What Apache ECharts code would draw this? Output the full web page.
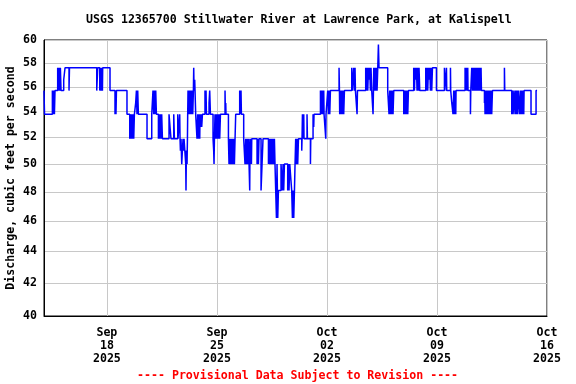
<!DOCTYPE html>
<html>
<head>
<meta charset="utf-8">
<script src="https://cdn.jsdelivr.net/npm/echarts@6/dist/echarts.min.js"></script>
<style>
html,body{margin:0;padding:0;background:#fff;}
#chart{width:576px;height:384px;}
</style>
</head>
<body>
<div id="chart"></div>
<script>
const chartTitle = 'USGS 12365700 Stillwater River at Lawrence Park, at Kalispell';
const footerText = '---- Provisional Data Subject to Revision ----';
const yAxisName = 'Discharge, cubic feet per second';
const startTime = '2025-09-14T00:00:00Z';
const endTime = '2025-10-16T00:00:00Z';
const xTickDates = ['2025-09-18', '2025-09-25', '2025-10-02', '2025-10-09', '2025-10-16'];
const yTicks = [40, 42, 44, 46, 48, 50, 52, 54, 56, 58, 60];
const monthNames = ['Jan','Feb','Mar','Apr','May','Jun','Jul','Aug','Sep','Oct','Nov','Dec'];
// [hours since start, discharge cfs] — each value holds until the next reading
const readings = [
[0.0,55.7],[0.8,53.8],
[12.8,55.7],[13.7,53.8],[14.8,55.7],[15.9,53.8],[16.8,55.7],
[20.9,57.6],[22.0,55.7],[22.9,57.6],[24.0,55.7],[25.0,57.6],[26.0,55.7],
[30.1,56.6],[32.1,57.6],
[38.2,55.7],[38.9,57.6],
[80.5,55.7],[82.0,57.6],
[85.1,55.7],[86.1,57.6],[87.0,55.7],[88.1,57.6],[89.2,55.7],[89.6,57.6],
[100.8,55.7],
[108.4,53.8],[109.5,55.7],[109.9,53.8],[110.6,55.7],
[126.7,53.8],
[130.9,51.9],[131.9,53.8],[132.8,51.9],[133.9,53.8],[135.0,51.9],[135.9,53.8],[137.0,51.9],[138.0,53.8],
[140.0,54.7],[141.1,55.7],[142.0,53.8],[143.1,55.7],[144.1,53.8],
[157.3,51.9],
[164.5,53.8],
[166.4,55.7],[167.5,53.8],[168.6,55.7],[169.5,53.8],[170.6,55.7],[171.6,53.8],
[174.7,51.9],[175.6,53.8],[176.7,51.9],[177.7,53.8],[178.7,51.9],[179.7,53.8],[180.8,51.9],
[190.9,53.8],[193.9,51.9],[198.1,53.8],[199.1,51.9],[204.2,53.8],[204.6,51.9],[207.2,53.8],[207.7,51.9],
[208.3,51.0],[209.2,51.9],[210.3,50.0],[211.3,51.0],[212.3,51.9],[213.3,51.0],[213.8,51.9],
[216.4,50.0],[216.8,48.1],[217.4,51.0],[218.4,50.0],[219.0,51.9],
[219.4,53.8],[219.9,55.7],[221.0,53.8],[222.0,55.7],[222.9,53.8],[224.0,55.7],[225.1,53.8],[226.0,55.7],[227.1,53.8],[228.1,55.7],
[228.6,57.6],[229.1,55.7],[230.1,56.6],[230.6,55.7],[231.6,53.8],
[233.6,51.9],[234.7,53.8],[235.8,51.9],[236.7,53.8],[237.8,51.9],[238.2,53.8],
[238.8,52.8],[239.7,53.8],[240.8,52.8],[241.9,53.8],
[245.8,55.7],[246.9,53.8],[247.4,55.7],[248.0,53.8],
[252.0,54.7],[253.0,55.7],[254.1,53.8],
[258.1,51.9],[259.1,51.0],[259.6,50.0],[260.2,51.9],[261.1,53.8],
[262.2,51.9],[263.3,53.8],[264.2,51.9],[265.2,53.8],[266.3,51.9],[267.2,53.8],[268.3,51.9],[269.4,53.8],
[276.4,55.7],[277.0,53.8],[277.5,54.7],[277.9,53.8],
[281.6,51.9],
[282.5,50.0],[283.6,51.9],[284.6,50.0],[285.5,51.9],[286.6,50.0],[287.7,51.9],[288.6,50.0],[289.7,51.9],[290.7,50.0],[291.7,51.9],
[292.7,53.8],
[298.8,55.7],[299.9,53.8],[300.8,55.7],[301.4,53.8],
[304.9,51.9],
[306.9,50.0],[308.0,51.9],[309.1,50.0],[310.0,51.9],[311.0,50.0],[312.1,51.9],
[314.1,48.1],[314.6,51.9],
[315.2,50.0],[316.1,51.9],[316.7,50.0],[317.2,51.9],
[325.3,50.0],[326.3,51.9],[327.4,50.0],[328.3,51.9],
[331.4,48.1],[334.4,51.9],
[342.7,50.0],[343.6,51.9],[344.6,50.0],[345.7,51.9],[346.6,50.0],[347.7,51.9],[348.8,50.0],[349.7,51.9],[350.8,50.0],[351.8,51.9],[352.7,50.0],
[354.9,46.2],[355.8,50.0],[356.9,46.2],[357.9,48.1],
[361.9,50.0],
[364.0,48.1],[365.0,50.0],[366.0,48.1],[367.1,50.0],
[372.1,48.1],[373.2,50.0],[374.1,48.1],[375.2,50.0],
[378.2,48.1],[379.3,46.2],[380.2,48.1],[381.3,46.2],[382.4,48.1],
[383.3,50.0],[384.3,51.9],[385.4,50.0],[386.3,51.9],[387.4,50.0],[388.5,51.9],
[393.5,51.0],[394.0,51.9],
[394.6,53.8],[395.5,51.9],[396.6,53.8],[397.0,51.9],
[401.6,53.8],[402.2,51.9],
[406.8,50.0],[407.3,51.9],
[410.8,53.8],
[411.8,52.8],[412.3,53.8],
[422.1,55.7],[422.5,53.8],[423.0,55.7],[423.6,53.8],[425.1,55.7],[425.6,53.8],[427.1,55.7],[427.6,53.8],
[430.2,51.9],[430.6,53.8],
[433.2,55.7],[434.3,53.8],[435.2,55.7],[436.3,53.8],[437.3,55.7],
[450.5,57.6],[451.1,55.7],
[451.5,53.8],[452.6,55.7],[453.5,53.8],[454.6,55.7],[455.7,53.8],[456.6,55.7],[457.6,53.8],[458.7,55.7],
[469.9,57.6],[470.9,55.7],[471.8,56.6],[472.9,57.6],[474.0,55.7],[474.9,57.6],[475.5,55.7],
[478.0,53.8],[478.6,55.7],
[491.2,57.6],[492.3,55.7],[493.2,57.6],[494.3,55.7],[495.4,57.6],[496.3,56.6],[497.3,57.6],[498.4,55.7],[499.3,57.6],[500.4,55.7],
[502.4,53.8],[503.0,55.7],
[503.5,57.6],[504.5,55.7],[505.4,57.6],[506.5,55.7],[507.6,57.6],[508.5,55.7],[509.6,57.6],
[510.6,59.6],[511.5,57.6],
[524.8,55.7],
[526.8,53.8],[527.9,55.7],[529.0,53.8],[529.9,55.7],[530.9,53.8],[532.0,55.7],[532.9,53.8],[534.0,55.7],
[549.3,53.8],[550.3,55.7],[551.2,53.8],[552.3,55.7],[553.4,53.8],[554.3,55.7],[555.4,53.8],[556.4,55.7],
[564.5,57.6],[565.6,55.7],[566.5,57.6],[567.6,56.6],[568.7,57.6],[569.6,55.7],[570.6,57.6],[571.7,55.7],[572.6,57.6],[573.7,55.7],
[582.9,57.6],[583.9,55.7],[584.8,57.6],[585.9,55.7],[587.0,57.6],[587.9,56.6],[589.0,57.6],[590.0,55.7],[591.0,57.6],[592.0,55.7],[593.1,57.6],[599.2,55.7],
[611.4,57.6],[611.9,55.7],[614.5,57.6],[614.9,55.7],[620.6,57.6],[621.0,55.7],[622.6,54.7],
[624.5,53.8],[625.6,55.7],[626.7,53.8],[627.6,55.7],[628.7,53.8],[629.1,55.7],
[642.9,57.6],[643.9,55.7],[645.0,57.6],[645.9,55.7],[647.0,57.6],[647.4,55.7],
[651.1,53.8],[651.6,55.7],
[653.1,57.6],[654.2,55.7],[655.1,57.6],[656.2,55.7],[657.2,57.6],[658.1,55.7],
[659.2,57.6],[660.3,55.7],[661.2,57.6],[662.3,55.7],[663.3,57.6],[664.2,55.7],[665.3,57.6],[666.4,55.7],[667.3,57.6],[667.9,55.7],
[672.5,54.7],[672.9,55.7],
[673.4,53.8],[674.5,55.7],[675.5,53.8],[676.5,55.7],[677.5,53.8],[678.6,55.7],[679.5,53.8],[680.6,55.7],[681.7,53.8],[682.6,55.7],[683.6,53.8],[684.7,55.7],
[703.0,57.6],[703.5,55.7],
[714.2,53.8],[715.2,55.7],[716.2,53.8],[717.2,54.7],[717.7,55.7],
[719.2,53.8],[720.3,55.7],[721.4,53.8],[722.3,55.7],[723.3,53.8],[724.4,55.7],
[726.4,53.8],[727.5,55.7],[728.4,53.8],[729.4,55.7],[730.5,53.8],[731.4,55.7],[732.5,53.8],[733.0,55.7],
[743.6,53.8],[751.3,55.7],[752.8,55.7]
];

const FONT = '"DejaVu Sans Mono", "Liberation Mono", monospace';
const t0 = Date.parse(startTime);
const seriesData = readings.map(r => [t0 + r[0] * 3600000, r[1]]);
const xTickValues = xTickDates.map(d => Date.parse(d));

const chart = echarts.init(document.getElementById('chart'), null, {renderer: 'canvas'});
chart.setOption({
  animation: false,
  backgroundColor: '#ffffff',
  title: [
    {text: chartTitle, left: 86, top: 14, padding: 0,
     textStyle: {fontFamily: FONT, fontSize: 11.6, fontWeight: 'bold', color: '#000'}},
    {text: footerText, left: 137, top: 370, padding: 0,
     textStyle: {fontFamily: FONT, fontSize: 11.6, fontWeight: 'bold', color: '#ff0000'}}
  ],
  grid: {left: 44, right: 29, top: 40, bottom: 68, show: true, borderColor: '#000', borderWidth: 1,
         containLabel: false, outerBoundsMode: 'none'},
  xAxis: {
    type: 'value',
    min: Date.parse(startTime),
    max: Date.parse(endTime),
    axisLine: {show: true, lineStyle: {color: '#000', width: 1}},
    axisTick: {show: false, customValues: xTickValues},
    splitLine: {show: true, lineStyle: {color: '#c8c8c8', width: 1}},
    axisLabel: {
      customValues: xTickValues,
      margin: 10,
      fontFamily: FONT, fontSize: 11.6, fontWeight: 'bold', color: '#000', lineHeight: 13,
      formatter: function (v) {
        const d = new Date(v);
        const dd = String(d.getUTCDate()).padStart(2, '0');
        return monthNames[d.getUTCMonth()] + '\n' + dd + '\n' + d.getUTCFullYear();
      }
    }
  },
  yAxis: {
    type: 'log',
    logBase: 10,
    min: 40,
    max: 60,
    name: yAxisName,
    nameLocation: 'middle',
    nameRotate: 90,
    nameGap: 27,
    nameMoveOverlap: false,
    nameTextStyle: {fontFamily: FONT, fontSize: 11.6, fontWeight: 'bold', color: '#000'},
    axisLine: {show: true, lineStyle: {color: '#000', width: 1}},
    axisTick: {show: false, customValues: yTicks},
    splitLine: {show: true, lineStyle: {color: '#c8c8c8', width: 1}},
    axisLabel: {customValues: yTicks, margin: 7,
      fontFamily: FONT, fontSize: 11.6, fontWeight: 'bold', color: '#000',
      formatter: v => String(Math.round(v))}
  },
  series: [{
    type: 'line',
    step: 'end',
    data: seriesData,
    showSymbol: false,
    symbol: 'none',
    lineStyle: {color: '#0000ff', width: 1.5},
    itemStyle: {color: '#0000ff'}
  }]
});
</script>
</body>
</html>
